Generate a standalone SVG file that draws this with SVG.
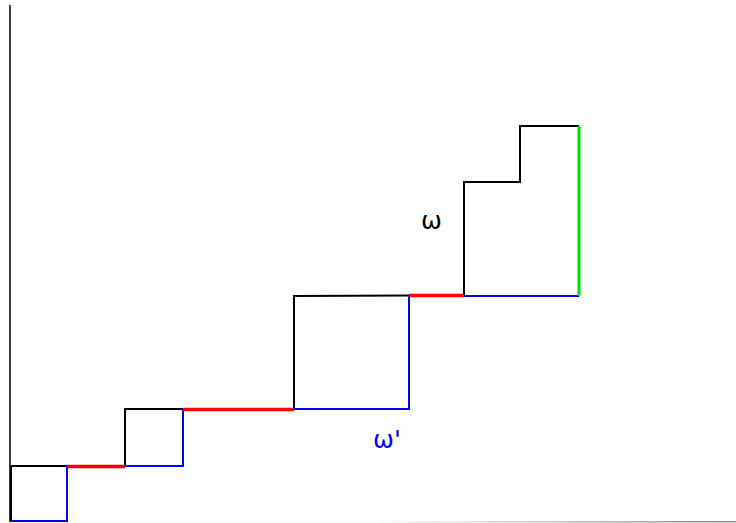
<svg xmlns="http://www.w3.org/2000/svg" width="736" height="523" viewBox="0 0 736 523">
<style>
.k{stroke:#000;stroke-width:2;fill:none}
.b{stroke:#0000ff;stroke-width:2;fill:none}
.r{stroke:#ff0000;stroke-width:3.5;fill:none}
.g{stroke:#00e000;stroke-width:3;fill:none}
text{font-family:"DejaVu Sans",sans-serif;font-size:25px}
</style>
<defs>
<linearGradient id="fade" x1="0" x2="1" y1="0" y2="0">
<stop offset="0" stop-color="#fff"/>
<stop offset="1" stop-color="#888"/>
</linearGradient>
</defs>
<g id="axes">
<line x1="10" y1="5" x2="10" y2="522" stroke="#000" stroke-width="1.5"/>
<rect x="370" y="521" width="366" height="1.5" fill="url(#fade)"/>
</g>
<g id="box1">
<path class="k" d="M11,521 V466 H67"/>
<path class="b" d="M67,466 V521 H11"/>
</g>
<g id="box2">
<path class="k" d="M125,467 V409 H183"/>
<path class="b" d="M183,409 V466 H125"/>
</g>
<g id="box3">
<path class="k" d="M294,409 V296 L409,295.5"/>
<path class="b" d="M409,296 V409 H294"/>
</g>
<g id="box4">
<path class="k" d="M464,296 V182 H520 V126 H579"/>
<path class="b" d="M464,296 H579"/>
<path class="g" d="M579,126 V296"/>
</g>
<g id="connectors">
<path class="r" d="M67,466.5 H125"/>
<path class="r" d="M183,409.5 H294"/>
<path class="r" d="M409,295.5 H464"/>
</g>
<g id="labels">
<text x="421" y="229" fill="#000">ω</text>
<text x="373" y="448" fill="#0000ff">ω'</text>
</g>
</svg>
